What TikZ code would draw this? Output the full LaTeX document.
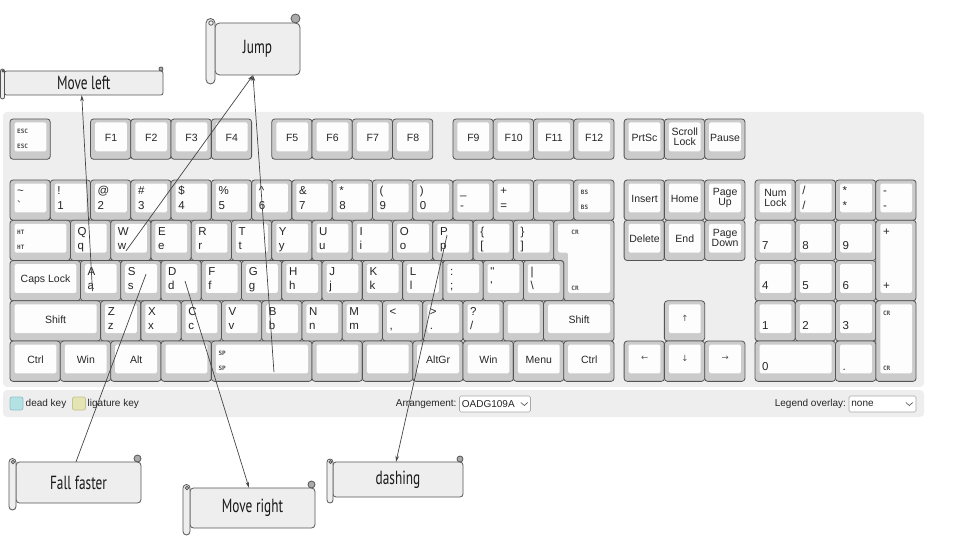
\documentclass[tikz,border=0pt]{standalone}
\usepackage{fontspec}
\usetikzlibrary{math,calc,arrows.meta}

\newfontfamily\keyfont{Liberation Sans}
\newfontfamily\handfont[FakeStretch=0.7]{PT Sans}
\newfontfamily\symfont{DejaVu Sans}
\newfontfamily\tinyfont{DejaVu Sans Mono}

\definecolor{panelgray}{HTML}{EEEEEE}
\definecolor{keygray}{HTML}{CBCBCB}
\definecolor{keyline}{HTML}{555555}
\definecolor{keywhite}{HTML}{FDFDFD}
\definecolor{notefill}{HTML}{EEEEEE}
\definecolor{noteline}{HTML}{555555}
\definecolor{curlgray}{HTML}{ABABAB}
\definecolor{linegray}{HTML}{444444}
\definecolor{deadfill}{HTML}{B4E2E4}
\definecolor{deadline}{HTML}{8CC4C8}
\definecolor{ligafill}{HTML}{E4E4B4}
\definecolor{ligaline}{HTML}{C4C48E}
\definecolor{dropline}{HTML}{A8A8A8}

\newcommand\kbox[5]{%
	\node[keyout, minimum width={(#4)*\ku*1pt}, minimum height={(#5)*\ku*1pt}] (#1) at ({\kx+(#2)*\ku},#3) {};
	\fill[keyin] ($(#1.north west)+(4.5,3.5)$) rectangle ($(#1.south east)+(-4,-8)$);
}
\newcommand\klr[3]{%
	\node[lgd] (#1-t) at ($(#1.north west)+(7,14.8)$) {#2};
	\node[lgd] (#1-b) at ($(#1.south west)+(7,-11.2)$) {#3};
}
\newcommand\klb[2]{%
	\node[lgd] (#1-b) at ($(#1.south west)+(7,-11.2)$) {#2};
}
\newcommand\ksm[3]{%
	\node[lgdsm] (#1-t) at ($(#1.north west)+(7,14.5)$) {#2};
	\node[lgdsm] (#1-b) at ($(#1.south west)+(7,-10.8)$) {#3};
}
\newcommand\kc[2]{\node[lgdc] (#1-c) at ($(#1.north)+(0.3,22.3)$) {#2};}
\newcommand\kcc[2]{\node[lgdcc] (#1-c) at ($(#1.north)+(0.3,18)$) {#2};}

\newcommand\scrollnote[7]{%
	\pgfmathsetmacro\nhalf{#6/2}
	\pgfmathsetmacro\nwid{#4-#2-#6}
	\pgfmathsetmacro\nhgt{#5-#3-2*#6}
	\draw[notebox, rounded corners=\nhalf pt] (#2+#6,#3+#6) -- (#4,#3+#6) -- (#4,#5-#6) -- (#2+#6,#5-#6) -- cycle;
	\draw[notebox, rounded corners=\nhalf pt] (#2,#3+\nhalf) rectangle (#2+#6,#5);
	\draw[notebox] (#2+\nhalf+0.5,#3+#6) circle [radius={0.25*#6pt}];
	\draw[notebox, fill=curlgray] (#4-\nhalf,#3+\nhalf) circle [radius=\nhalf pt];
	\node[notetext, minimum width=\nwid pt, minimum height=\nhgt pt] (#1) at ({(#2+#6+#4)/2},{(#3+#5)/2}) {#7};
}

\begin{document}
\begin{tikzpicture}[x=1pt, y=-1pt, >={Stealth[length=6pt,width=3.6pt]},
	keyout/.style={draw=keyline, fill=keygray, line width=0.8pt, rounded corners=3pt, anchor=north west, inner sep=0pt, outer sep=0pt},
	keyin/.style={fill=keywhite, rounded corners=1.5pt},
	lgd/.style={anchor=base west, inner sep=0pt, text=black!85, font=\keyfont\fontsize{11.5}{12}\selectfont},
	lgdsm/.style={anchor=base west, inner sep=0pt, text=black!70, font=\tinyfont\bfseries\fontsize{6}{7}\selectfont},
	lgdc/.style={anchor=base, inner sep=0pt, text=black!85, font=\keyfont\fontsize{10.5}{11}\selectfont},
	lgdcc/.style={anchor=center, align=center, inner sep=0pt, text=black!85, font=\keyfont\fontsize{10.5}{10}\selectfont},
	lgdar/.style={anchor=center, inner sep=0pt, text=keyline, font=\symfont\fontsize{8.5}{9}\selectfont},
	notebox/.style={draw=noteline, fill=notefill, line width=0.8pt},
	notetext/.style={inner sep=0pt, text=black!90, font=\handfont\fontsize{19}{21}\selectfont},
	swatch/.style={minimum size=13pt, inner sep=0pt, rounded corners=2pt, line width=0.7pt},
	bartext/.style={inner sep=0pt, text=black!85, font=\keyfont\fontsize{10}{12}\selectfont},
	dropbox/.style={draw=dropline, fill=white, minimum height=16pt, inner sep=0pt, rounded corners=1.5pt, line width=0.6pt},
	chev/.style={draw=black!70, line width=0.6pt}]
	
	\useasboundingbox (0,0) rectangle (960,540);
	
	\tikzmath{
		\ku = 40.27;
		\kx = 10;
		\yf = 119;
		\ya = 180;
		\yb = \ya + \ku;
		\yc = \yb + \ku;
		\yd = \yc + \ku;
		\ye = \yd + \ku;
	}
	
	%---------------------------------------------
	
	\fill[panelgray, rounded corners=4pt] (3,112) rectangle (924,387);
	\fill[panelgray, rounded corners=4pt] (3,390) rectangle (924,417);
	
	%---------------------------------------------
	
	\kbox{esc}{0}{\yf}{1}{1} \ksm{esc}{ESC}{ESC}
	\foreach \i/\c in {1/2, 2/3, 3/4, 4/5, 5/6.5, 6/7.5, 7/8.5, 8/9.5, 9/11, 10/12, 11/13, 12/14} {
		\kbox{f\i}{\c}{\yf}{1}{1} \kc{f\i}{F\i}
	}
	\kbox{prt}{15.25}{\yf}{1}{1} \kc{prt}{PrtSc}
	\kbox{scr}{16.25}{\yf}{1}{1} \kcc{scr}{Scroll\\Lock}
	\kbox{pau}{17.25}{\yf}{1}{1} \kc{pau}{Pause}
	
	%---------------------------------------------
	
	\foreach \i/\t/\b in {0/\textasciitilde/\textasciigrave, 1/!/1, 2/@/2, 3/\#/3, 4/\$/4, 5/\%/5, 6/\textasciicircum/6, 7/\&/7, 8/*/8, 9/(/9, 10/)/0, 11/\_/-, 12/+/=} {
		\kbox{k1_\i}{\i}{\ya}{1}{1} \klr{k1_\i}{\t}{\b}
	}
	\kbox{k1_13}{13}{\ya}{1}{1}
	\kbox{k1_14}{14}{\ya}{1}{1} \ksm{k1_14}{BS}{BS}
	
	\kbox{k2_0}{0}{\yb}{1.5}{1} \ksm{k2_0}{HT}{HT}
	\foreach \i/\t/\b in {1/Q/q, 2/W/w, 3/E/e, 4/R/r, 5/T/t, 6/Y/y, 7/U/u, 8/I/i, 9/O/o, 10/P/p, 11/\{/[, 12/\}/]} {
		\kbox{k2_\i}{\i+0.5}{\yb}{1}{1} \klr{k2_\i}{\t}{\b}
	}
	
	\coordinate (ent) at ({\kx+13.75*\ku},\yc);
	\draw[keyout] ({\kx+13.5*\ku},\yb) -- ({\kx+15*\ku},\yb) -- ({\kx+15*\ku},\yd) -- ({\kx+13.75*\ku},\yd) -- ({\kx+13.75*\ku},\yc) -- ({\kx+13.5*\ku},\yc) -- cycle;
	\fill[keyin] ({\kx+13.5*\ku+4.5},\yb+3.5) -- ({\kx+15*\ku-4},\yb+3.5) -- ({\kx+15*\ku-4},\yd-8) -- ({\kx+13.75*\ku+4.5},\yd-8) -- ({\kx+13.75*\ku+4.5},\yc-8) -- ({\kx+13.5*\ku+4.5},\yc-8) -- cycle;
	\node[lgdsm] (ent-t) at ($(ent)+(7.5,-\ku+14.5)$) {CR};
	\node[lgdsm] (ent-b) at ($(ent)+(7.5,\ku-10.8)$) {CR};
	
	\kbox{k3_0}{0}{\yc}{1.75}{1} \kc{k3_0}{Caps Lock}
	\foreach \i/\t/\b in {1/A/a, 2/S/s, 3/D/d, 4/F/f, 5/G/g, 6/H/h, 7/J/j, 8/K/k, 9/L/l, 10/:/;, 11/\textquotedbl/\textquotesingle, 12/|/\textbackslash} {
		\kbox{k3_\i}{\i+0.75}{\yc}{1}{1} \klr{k3_\i}{\t}{\b}
	}
	
	\kbox{k4_0}{0}{\yd}{2.25}{1} \kc{k4_0}{Shift}
	\foreach \i/\t/\b in {1/Z/z, 2/X/x, 3/C/c, 4/V/v, 5/B/b, 6/N/n, 7/M/m, 8/</{,}, 9/>/., 10/?/{/}} {
		\kbox{k4_\i}{\i+1.25}{\yd}{1}{1} \klr{k4_\i}{\t}{\b}
	}
	\kbox{k4_11}{12.25}{\yd}{1}{1}
	\kbox{k4_12}{13.25}{\yd}{1.75}{1} \kc{k4_12}{Shift}
	
	\foreach \i/\c/\t in {0/0/Ctrl, 1/1.25/Win, 2/2.5/Alt, 7/10/AltGr, 8/11.25/Win, 9/12.5/Menu, 10/13.75/Ctrl} {
		\kbox{k5_\i}{\c}{\ye}{1.25}{1} \kc{k5_\i}{\t}
	}
	\kbox{k5_3}{3.75}{\ye}{1.25}{1}
	\kbox{k5_4}{5}{\ye}{2.5}{1} \ksm{k5_4}{SP}{SP}
	\kbox{k5_5}{7.5}{\ye}{1.25}{1}
	\kbox{k5_6}{8.75}{\ye}{1.25}{1}
	
	%---------------------------------------------
	
	\kbox{ins}{15.25}{\ya}{1}{1} \kc{ins}{Insert}
	\kbox{hom}{16.25}{\ya}{1}{1} \kc{hom}{Home}
	\kbox{pgu}{17.25}{\ya}{1}{1} \kcc{pgu}{Page\\Up}
	\kbox{del}{15.25}{\yb}{1}{1} \kc{del}{Delete}
	\kbox{end}{16.25}{\yb}{1}{1} \kc{end}{End}
	\kbox{pgd}{17.25}{\yb}{1}{1} \kcc{pgd}{Page\\Down}
	
	\kbox{up}{16.25}{\yd}{1}{1}
	\kbox{lt}{15.25}{\ye}{1}{1}
	\kbox{dn}{16.25}{\ye}{1}{1}
	\kbox{rt}{17.25}{\ye}{1}{1}
	\node[lgdar] (up-c) at ($(up.north)+(0.3,17.5)$) {↑};
	\node[lgdar] (lt-c) at ($(lt.north)+(0.3,17.5)$) {←};
	\node[lgdar] (dn-c) at ($(dn.north)+(0.3,17.5)$) {↓};
	\node[lgdar] (rt-c) at ($(rt.north)+(0.3,17.5)$) {→};
	
	%---------------------------------------------
	
	\kbox{np_nl}{18.5}{\ya}{1}{1} \kcc{np_nl}{Num\\Lock}
	\kbox{np_sl}{19.5}{\ya}{1}{1} \klr{np_sl}{/}{/}
	\kbox{np_as}{20.5}{\ya}{1}{1} \klr{np_as}{*}{*}
	\kbox{np_mi}{21.5}{\ya}{1}{1} \klr{np_mi}{-}{-}
	\foreach \i/\c in {7/18.5, 8/19.5, 9/20.5} {
		\kbox{np\i}{\c}{\yb}{1}{1} \klb{np\i}{\i}
	}
	\foreach \i/\c in {4/18.5, 5/19.5, 6/20.5} {
		\kbox{np\i}{\c}{\yc}{1}{1} \klb{np\i}{\i}
	}
	\foreach \i/\c in {1/18.5, 2/19.5, 3/20.5} {
		\kbox{np\i}{\c}{\yd}{1}{1} \klb{np\i}{\i}
	}
	\kbox{np_pl}{21.5}{\yb}{1}{2} \klr{np_pl}{+}{+}
	\kbox{np_en}{21.5}{\yd}{1}{2} \ksm{np_en}{CR}{CR}
	\kbox{np0}{18.5}{\ye}{2}{1} \klb{np0}{0}
	\kbox{np_dt}{20.5}{\ye}{1}{1} \klb{np_dt}{.}
	
	%---------------------------------------------
	
	\node[swatch, fill=deadfill, draw=deadline] (deadsw) at (16.5,403.5) {};
	\node[bartext, anchor=west] (deadtx) at (25.5,403.5) {dead key};
	\node[swatch, fill=ligafill, draw=ligaline] (ligasw) at (79,403.5) {};
	\node[bartext, anchor=west] (ligatx) at (87.5,403.5) {ligature key};
	
	\node[dropbox, minimum width=71pt] (arrbox) at (495,404) {};
	\node[bartext, anchor=east] (arrtx) at ([xshift=-2.5pt]arrbox.west) {Arrangement:};
	\node[bartext, anchor=west] (arrval) at ([xshift=2.5pt]arrbox.west) {OADG109A};
	\draw[chev] ($(arrbox.east)+(-10,-1.5)$) -- ($(arrbox.east)+(-6.5,1.5)$) -- ($(arrbox.east)+(-3,-1.5)$);
	
	\node[dropbox, minimum width=67pt] (ovlbox) at (882.5,404) {};
	\node[bartext, anchor=east] (ovltx) at ([xshift=-2.5pt]ovlbox.west) {Legend overlay:};
	\node[bartext, anchor=west] (ovlval) at ([xshift=2.5pt]ovlbox.west) {none};
	\draw[chev] ($(ovlbox.east)+(-10.5,-1.5)$) -- ($(ovlbox.east)+(-7,1.5)$) -- ($(ovlbox.east)+(-3.5,-1.5)$);
	
	%---------------------------------------------
	
	\scrollnote{ml}{0.5}{67}{163}{99}{4}{Move left}
	\scrollnote{jump}{206}{14}{300}{84}{9}{Jump}
	\scrollnote{ff}{9}{455}{141}{510}{7}{Fall faster}
	\scrollnote{mr}{183}{481}{315}{535}{7}{Move right}
	\scrollnote{dashg}{327}{456}{463}{503}{6}{dashing}
	
	%---------------------------------------------
	
	\coordinate (a_pt) at ($(k3_1.north west)+(12,30.5)$);
	\coordinate (w_pt) at ($(k2_2.north west)+(15.3,30.7)$);
	\coordinate (sp_pt) at ($(k5_4.north west)+(62.6,30.9)$);
	\coordinate (s_pt) at ($(k3_2.north west)+(25.3,13.5)$);
	\coordinate (d_pt) at ($(k3_3.north west)+(24,20.5)$);
	\coordinate (p_pt) at ($(k2_10.north west)+(14.2,14.7)$);
	
	\tikzset{every path/.style={draw=linegray, line width=0.7pt}}
	
	\draw [->] (a_pt) -- ([xshift=-2pt]ml.south);
	\draw [->] (w_pt) -- ([xshift=-4.5pt]jump.south);
	\draw [->] (sp_pt) -- ([xshift=-4.5pt]jump.south);
	\draw [] (s_pt) -- ([xshift=-2.5pt]ff.north);
	\draw [->] (d_pt) -- ([xshift=-3.5pt]mr.north);
	\draw [->] (p_pt) -- ([xshift=-2pt]dashg.north);
	
	%---------------------------------------------
	
\end{tikzpicture}
\end{document}
